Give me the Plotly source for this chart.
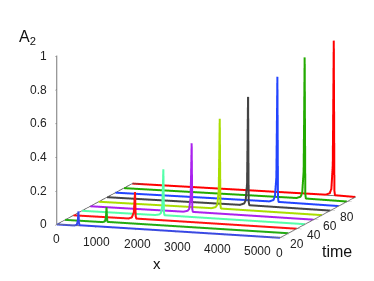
import plotly.graph_objects as go

times = [0, 10, 20, 30, 40, 50, 60, 70, 80, 90]
colors = ["#3344ee", "#22aa11", "#ff1111", "#55ffaa", "#aa22ee",
          "#aadd00", "#444444", "#2244ff", "#22aa00", "#ff0000"]
x0 = [0, 440, 500, 525, 540, 552, 565, 5550]
x1 = [0, 930, 990, 1015, 1030, 1042, 1055, 5550]
x2 = [0, 1370, 1450, 1500, 1530, 1545, 1560, 5550]
x3 = [0, 1825, 1925, 1965, 2000, 2025, 2040, 2055, 5550]
x4 = [0, 2320, 2420, 2460, 2495, 2520, 2535, 2550, 5550]
x5 = [0, 2810, 2910, 2950, 2985, 3010, 3025, 3040, 5550]
x6 = [0, 3305, 3405, 3445, 3480, 3505, 3520, 3535, 5550]
x7 = [0, 3825, 3925, 3965, 4000, 4025, 4040, 4055, 5550]
x8 = [0, 4295, 4395, 4435, 4470, 4495, 4510, 4525, 5550]
x9 = [0, 4810, 4910, 4950, 4985, 5010, 5025, 5040, 5550]
a0 = [0, 0, 0.005, 0.03, 0.085, 0.02, 0.003, 0]
a1 = [0, 0, 0.005, 0.03, 0.09, 0.02, 0.003, 0]
a2 = [0, 0.001, 0.008, 0.04, 0.16, 0.02, 0.003, 0]
a3 = [0, 0.001, 0.006, 0.015, 0.06, 0.275, 0.02, 0.003, 0]
a4 = [0, 0.001, 0.008, 0.02, 0.09, 0.41, 0.02, 0.003, 0]
a5 = [0, 0.002, 0.01, 0.025, 0.11, 0.535, 0.025, 0.003, 0]
a6 = [0, 0.002, 0.011, 0.03, 0.13, 0.645, 0.025, 0.003, 0]
a7 = [0, 0.003, 0.012, 0.035, 0.15, 0.745, 0.03, 0.003, 0]
a8 = [0, 0.003, 0.012, 0.038, 0.165, 0.84, 0.03, 0.003, 0]
a9 = [0, 0.003, 0.013, 0.04, 0.18, 0.92, 0.03, 0.003, 0]
xs = [x0, x1, x2, x3, x4, x5, x6, x7, x8, x9]
amps = [a0, a1, a2, a3, a4, a5, a6, a7, a8, a9]
x_ticks = [0, 1000, 2000, 3000, 4000, 5000]
t_ticks = [0, 20, 40, 60, 80]
z_ticks = [0, 0.2, 0.4, 0.6, 0.8, 1]
x_max = 5550
t_max = 90
edge_x = [0, 0, x_max]
edge_t = [0, t_max, t_max]
edge_z = [0, 0, 0]

fig = go.Figure()
fig.add_trace(go.Scatter3d(x=edge_x, y=edge_t, z=edge_z, mode="lines",
                           line=dict(color="#555555", width=1.5), showlegend=False))
for t, c, x, a in zip(times, colors, xs, amps):
    fig.add_trace(go.Scatter3d(x=x, y=[t] * len(x), z=a, mode="lines",
                               line=dict(color=c, width=4), showlegend=False))

def ax(rng, ticks):
    return dict(range=rng, tickvals=ticks, showticklabels=False,
                title=dict(text=""),
                showgrid=False, zeroline=False, showbackground=False,
                showspikes=False, showline=True, linecolor="#777777", linewidth=2,
                ticks="outside", ticklen=5, tickcolor="#777777")

def note(text, px, py, size):
    # the page puts the figure 8 px in from the window corner
    return dict(text=text, x=(px - 8) / 374, y=1 - (py - 8) / 281, xref="paper", yref="paper",
                xanchor="center", yanchor="middle", showarrow=False,
                font=dict(size=size, color="#111"))

def tick_label(text, x, y, z, xshift, yshift, anchor="center"):
    return dict(text=text, x=x, y=y, z=z, xshift=xshift, yshift=yshift, xanchor=anchor,
                yanchor="middle", showarrow=False, font=dict(size=12, color="#222"))

labels = [tick_label(str(v), v, 0, 0, 0, -15) for v in x_ticks]
labels += [tick_label(str(v), x_max, v, 0, 0, -15) for v in t_ticks]
labels += [tick_label(f"{v:g}", 0, 0, v, -8, 0, "right") for v in z_ticks]

fig.update_layout(
    width=374, height=281,
    margin=dict(l=0, r=0, t=0, b=0),
    paper_bgcolor="white",
    font=dict(family="Liberation Sans"),
    annotations=[note("x", 157, 263, 15), note("time", 337, 251, 16),
                 note("A<sub>2</sub>", 27, 37, 16)],
    scene=dict(
        domain=dict(x=[0, 1], y=[0, 1]),
        xaxis=ax([0, x_max], x_ticks),
        yaxis=ax([0, t_max], t_ticks),
        zaxis=ax([0, 1], z_ticks),
        aspectmode="manual",
        aspectratio=dict(x=1.675, y=1.7, z=1.22),
        camera=dict(projection=dict(type="orthographic"),
                    eye=dict(x=0.875, y=-2.875, z=0.39),
                    center=dict(x=-0.075, y=-0.025, z=-0.16),
                    up=dict(x=0, y=0, z=1)),
        annotations=labels,
    ),
)
fig.write_html("out.html")
